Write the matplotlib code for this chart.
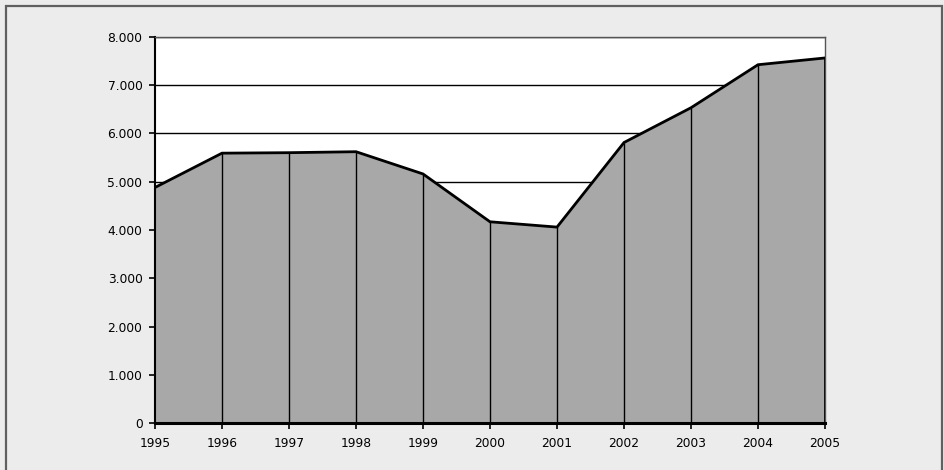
import numpy as np
import matplotlib
matplotlib.use("Agg")
import matplotlib.pyplot as plt
import matplotlib.patches as patches
from matplotlib.ticker import FuncFormatter

# valeurs
annees = [1995, 1996, 1997, 1998, 1999, 2000, 2001, 2002, 2003, 2004, 2005]
valeurs = [4880, 5590, 5600, 5620, 5160, 4170, 4060, 5810, 6530, 7420, 7560]
graduations_y = [0, 1000, 2000, 3000, 4000, 5000, 6000, 7000, 8000]


def format_milliers(v, pos):
    # séparateur de milliers avec un point
    return f"{int(v):,}".replace(",", ".")


fig = plt.figure(figsize=(9.44, 4.70), dpi=100)
fig.patch.set_facecolor("#ececec")

# cadre gris autour de la figure (bas coupé)
cadre = patches.Rectangle((5.5 / 944, -0.05), 936 / 944, 1 - 5.5 / 470 + 0.05,
                          transform=fig.transFigure, fill=False,
                          edgecolor="#606060", linewidth=1.6)
fig.add_artist(cadre)

ax = fig.add_axes([155 / 944, 1 - 423.3 / 470, 670 / 944, (423.3 - 36.7) / 470])
ax.set_facecolor("white")

# lignes horizontales de la grille, sous la surface
for g in graduations_y[1:]:
    ax.axhline(g, color="black", linewidth=1.0, zorder=1)

ax.fill_between(annees, valeurs, 0, color="#a8a8a8", linewidth=0, zorder=2)

# traits verticaux jusqu'à la courbe
ax.vlines(annees[1:-1], 0, valeurs[1:-1], color="black", linewidth=1.0, zorder=3)
ax.vlines(annees[-1], 0, valeurs[-1], color="black", linewidth=2.0, zorder=3)

ax.plot(annees, valeurs, color="black", linewidth=2.0, zorder=4,
        solid_joinstyle="miter")

ax.set_xlim(annees[0], annees[-1])
ax.set_ylim(0, 8000)
ax.set_xticks(annees)
ax.set_yticks(graduations_y)
ax.yaxis.set_major_formatter(FuncFormatter(format_milliers))

for cote in ["top", "right"]:
    ax.spines[cote].set_color("#555555")
    ax.spines[cote].set_linewidth(1.0)
ax.spines["left"].set_color("black")
ax.spines["left"].set_linewidth(1.5)
ax.spines["bottom"].set_color("black")
ax.spines["bottom"].set_linewidth(2.2)
ax.spines["bottom"].set_zorder(5)

ax.tick_params(axis="both", direction="out", length=4, width=1.2, color="black",
               labelsize=8.8, labelcolor="black")
ax.tick_params(axis="y", pad=5)
ax.tick_params(axis="x", pad=6)
for lab in ax.get_xticklabels() + ax.get_yticklabels():
    lab.set_family("DejaVu Sans")

fig.savefig("out.png", dpi=100, facecolor=fig.get_facecolor())
plt.close(fig)
